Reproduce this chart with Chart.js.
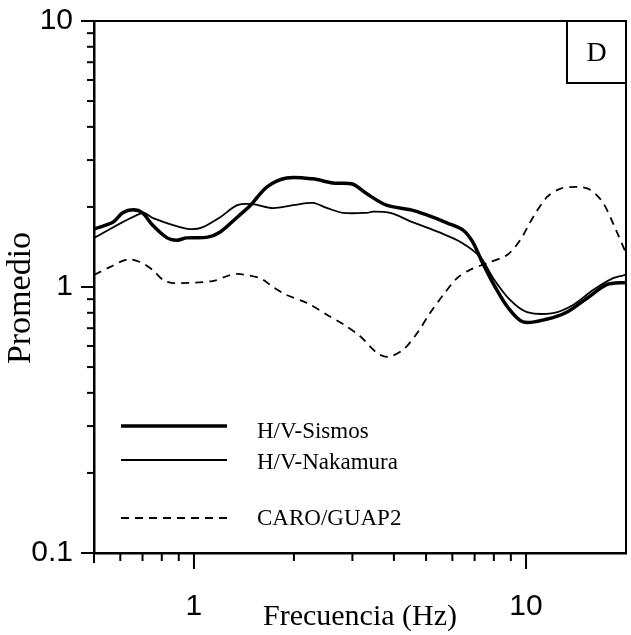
<!DOCTYPE html>
<html><head><meta charset="utf-8">
<script src="https://cdn.jsdelivr.net/npm/chart.js@4/dist/chart.umd.min.js"></script>
<style>html,body{margin:0;padding:0;background:#fff}#wrap{width:631px;height:635px}</style>
</head><body><div id="wrap"><canvas id="c" width="631" height="635"></canvas></div>
<script>
// ---- data ----
const sismosFreq = [0.5,0.57,0.61,0.655,0.7,0.75,0.83,0.89,0.95,1.1,1.2,1.35,1.48,1.66,1.9,2.28,2.62,3.0,3.3,3.8,4.5,5.0,5.8,6.45,6.9,7.4,7.95,8.8,9.8,11.6,13.3,15.3,17.5,20];
const sismosVal  = [1.65,1.75,1.9,1.95,1.9,1.71,1.53,1.5,1.53,1.54,1.61,1.83,2.03,2.38,2.57,2.55,2.46,2.44,2.25,2.03,1.95,1.87,1.74,1.64,1.48,1.23,1.035,0.841,0.739,0.758,0.805,0.909,1.02,1.04];
const nakamuraFreq = [0.5,0.7,0.75,0.865,0.973,1.065,1.2,1.35,1.5,1.73,1.99,2.28,2.52,2.81,3.32,3.46,3.9,4.57,5.51,6.33,7.27,7.96,8.95,10.07,12.06,13.86,15.92,18.29,20];
const nakamuraVal  = [1.53,1.9,1.82,1.71,1.65,1.68,1.83,2.03,2.05,1.98,2.03,2.07,1.98,1.9,1.9,1.92,1.9,1.75,1.6,1.48,1.30,1.08,0.894,0.805,0.798,0.856,0.974,1.08,1.11];
const caroFreq = [0.5,0.56,0.63,0.69,0.75,0.81,0.865,1.14,1.26,1.35,1.58,1.73,1.9,2.19,2.52,2.81,3.16,3.56,3.84,4.26,4.7,5.14,5.63,6.2,6.78,7.63,8.77,9.6,10.5,11.57,12.67,14.25,15.6,17.07,18.81,20];
const caroVal  = [1.11,1.19,1.27,1.24,1.16,1.06,1.035,1.053,1.10,1.12,1.08,1.0,0.933,0.871,0.785,0.726,0.654,0.565,0.546,0.58,0.671,0.798,0.933,1.08,1.16,1.23,1.32,1.5,1.83,2.18,2.34,2.38,2.32,2.07,1.6,1.34];
const seriesLabels = ['H/V-Sismos','H/V-Nakamura','CARO/GUAP2'];
const xLabelTicks = [1,10];
const yLabelTicks = [0.1,1,10];
const xMinorTicks = [0.6,0.7,0.8,0.9,2,3,4,5,6,7,8,9];
const yMinorTicks = [0.2,0.3,0.4,0.5,0.6,0.7,0.8,0.9,2,3,4,5,6,7,8,9];
const panelLabel = 'D';
const xTitle = 'Frecuencia (Hz)';
const yTitle = 'Promedio';

const pts = (xs, ys) => xs.map((x,i)=>({x, y: ys[i]}));
const noPad = s => { s.paddingTop = 0; s.paddingBottom = 0; s.paddingLeft = 0; s.paddingRight = 0; };

const decor = {
  id: 'decor',
  afterDraw(chart) {
    const {ctx, chartArea: a, scales: {x, y}} = chart;
    ctx.save();
    ctx.strokeStyle = '#000'; ctx.fillStyle = '#000';
    const seg = (x1,y1,x2,y2) => { ctx.beginPath(); ctx.moveTo(x1,y1); ctx.lineTo(x2,y2); ctx.stroke(); };
    ctx.lineWidth = 2;
    // frame top and right
    ctx.beginPath(); ctx.moveTo(a.left, a.top); ctx.lineTo(a.right, a.top); ctx.lineTo(a.right, a.bottom); ctx.stroke();
    // y ticks
    yLabelTicks.forEach(v => { const p = y.getPixelForValue(v); seg(a.left-13, p, a.left, p); });
    yMinorTicks.forEach(v => { const p = y.getPixelForValue(v); seg(a.left-7, p, a.left, p); });
    // x ticks
    xLabelTicks.forEach(v => { const p = x.getPixelForValue(v); seg(p, a.bottom, p, a.bottom+16); });
    xMinorTicks.forEach(v => { const p = x.getPixelForValue(v); seg(p, a.bottom, p, a.bottom+8); });
    seg(a.left, a.bottom, a.left, a.bottom+10);
    // y title
    ctx.save();
    ctx.translate(30, 298);
    ctx.rotate(-Math.PI/2);
    ctx.font = '34px "Liberation Serif", "Times New Roman", serif';
    ctx.textAlign = 'center'; ctx.textBaseline = 'alphabetic';
    ctx.fillText(yTitle, 0, 0);
    ctx.restore();
    // panel label box
    const bx = 567, bh = 62;
    ctx.lineWidth = 2;
    ctx.strokeRect(bx, a.top, a.right - bx, bh);
    ctx.font = '28px "Liberation Serif", "Times New Roman", serif';
    ctx.textAlign = 'center'; ctx.textBaseline = 'middle';
    ctx.fillText(panelLabel, (bx + a.right)/2, a.top + bh/2 + 2);
    // legend
    const lineY = [426, 460, 518];
    const textY = [432, 463, 519];
    ctx.font = '23px "Liberation Serif", "Times New Roman", serif';
    ctx.textAlign = 'left';
    chart.data.datasets.forEach((ds, i) => {
      ctx.lineWidth = ds.borderWidth;
      ctx.setLineDash(ds.borderDash || []);
      seg(121, lineY[i], 227, lineY[i]);
      ctx.setLineDash([]);
      ctx.fillText(ds.label, 257, textY[i]);
    });
    ctx.restore();
  }
};

new Chart(document.getElementById('c'), {
  type: 'scatter',
  data: {
    datasets: [
      {label: seriesLabels[0], data: pts(sismosFreq, sismosVal), showLine: true, borderColor: '#000', borderWidth: 3.5, pointRadius: 0, tension: 0.3},
      {label: seriesLabels[1], data: pts(nakamuraFreq, nakamuraVal), showLine: true, borderColor: '#000', borderWidth: 1.8, pointRadius: 0, tension: 0.3},
      {label: seriesLabels[2], data: pts(caroFreq, caroVal), showLine: true, borderColor: '#000', borderWidth: 1.8, borderDash: [8, 6], pointRadius: 0, tension: 0.3}
    ]
  },
  options: {
    responsive: false,
    animation: false,
    devicePixelRatio: 1,
    layout: {padding: {left: 0, top: 21, right: 5, bottom: 0}},
    plugins: {legend: {display: false}, tooltip: {enabled: false}},
    scales: {
      x: {
        type: 'logarithmic', min: 0.5, max: 20,
        afterFit: s => { s.height = 82; noPad(s); },
        afterBuildTicks: s => { s.ticks = xLabelTicks.map(v => ({value: v})); },
        grid: {display: false},
        border: {display: true, color: '#000', width: 2.5},
        ticks: {color: '#000', padding: 28, maxRotation: 0, autoSkip: false,
                font: {family: '"Liberation Sans", Arial, sans-serif', size: 30},
                callback: v => String(v)},
        title: {display: true, text: xTitle, color: '#000', padding: {top: 0, bottom: 0},
                font: {family: '"Liberation Serif", "Times New Roman", serif', size: 30}}
      },
      y: {
        type: 'logarithmic', min: 0.1, max: 10,
        afterFit: s => { s.width = 94; noPad(s); },
        afterBuildTicks: s => { s.ticks = yLabelTicks.map(v => ({value: v})); },
        grid: {display: false},
        border: {display: true, color: '#000', width: 2.5},
        ticks: {color: '#000', padding: 13, autoSkip: false,
                font: {family: '"Liberation Sans", Arial, sans-serif', size: 30},
                callback: v => String(v)},
        title: {display: false}
      }
    }
  },
  plugins: [decor]
});
</script></body></html>
